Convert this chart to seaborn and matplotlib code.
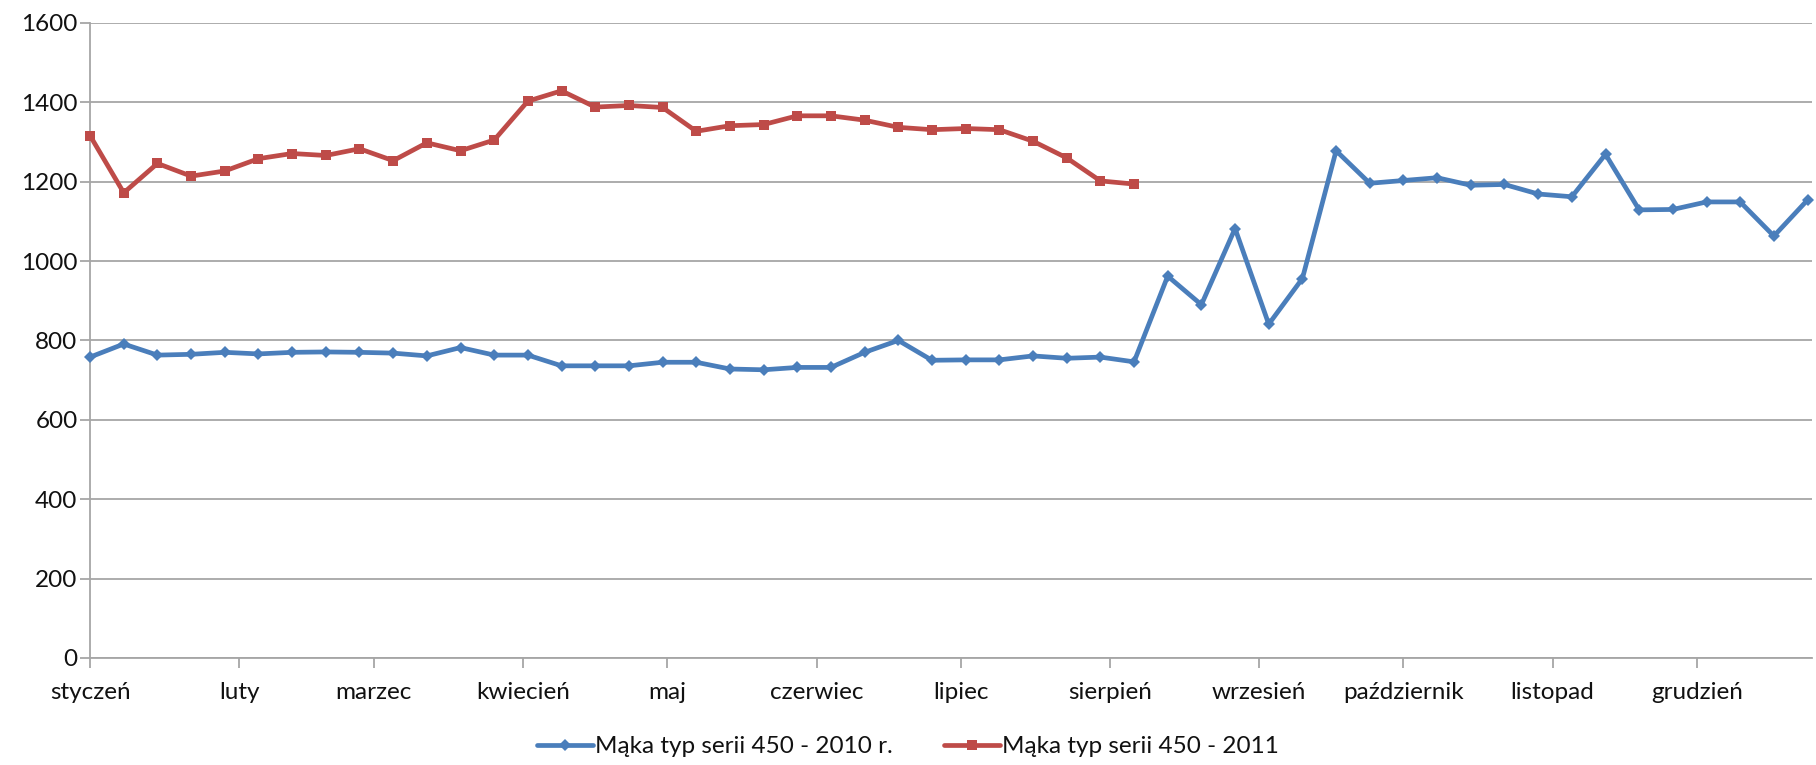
import numpy as np
import pandas as pd
import matplotlib
matplotlib.use("Agg")
import matplotlib.pyplot as plt
import matplotlib.dates as mdates
from matplotlib.ticker import FixedLocator
from matplotlib.lines import Line2D
import seaborn as sns

# Weekly price observations (one per week, starting 1 January)
price_2010 = [758, 791, 763, 765, 770, 766, 770, 771, 770, 768,
              761, 782, 763, 763, 736, 736, 736, 745, 745, 728,
              726, 732, 732, 770, 800, 750, 751, 751, 761, 755,
              758, 746, 962, 890, 1082, 841, 956, 1278, 1196, 1203,
              1210, 1191, 1193, 1169, 1162, 1269, 1129, 1130, 1149, 1149,
              1063, 1154]
price_2011 = [1316, 1172, 1246, 1214, 1227, 1258, 1271, 1266, 1283, 1253,
              1298, 1278, 1305, 1403, 1429, 1388, 1392, 1387, 1327, 1341,
              1344, 1366, 1366, 1355, 1337, 1331, 1334, 1331, 1302, 1260,
              1202, 1194]
month_labels = ["styczeń", "luty", "marzec", "kwiecień", "maj", "czerwiec",
                "lipiec", "sierpień", "wrzesień", "październik", "listopad",
                "grudzień"]
series_names = ["Mąka typ serii 450 - 2010 r.", "Mąka typ serii 450 - 2011"]
y_ticks = [0, 200, 400, 600, 800, 1000, 1200, 1400, 1600]

weeks = pd.date_range("2010-01-01", periods=len(price_2010), freq="7D")
month_starts = pd.date_range("2010-01-01", periods=12, freq="MS")

df_2010 = pd.DataFrame({"week": weeks, "price": price_2010})
df_2011 = pd.DataFrame({"week": weeks[:len(price_2011)], "price": price_2011})

sns.set_theme(style="white")
plt.rcParams["font.family"] = ["Lato", "DejaVu Sans"]

blue = "#4A7EBB"
red = "#BE4B48"
grid_col = "#A6A6A6"
text_col = "#111111"
fsize = 17.5
lw = 3.4

fig = plt.figure(figsize=(18.16, 7.65), dpi=100)
ax = fig.add_axes([0.0496, 0.140, 0.9484, 0.830])

sns.lineplot(data=df_2010, x="week", y="price", ax=ax, color=blue,
             linewidth=lw, marker="D", markersize=6, markeredgewidth=0,
             zorder=3, clip_on=False)
sns.lineplot(data=df_2011, x="week", y="price", ax=ax, color=red,
             linewidth=lw, marker="s", markersize=7, markeredgewidth=0,
             zorder=3, clip_on=False)

ax.set_ylim(0, 1600)
ax.set_yticks(y_ticks)
ax.set_yticklabels([str(v) for v in y_ticks])
ax.set_xlim(weeks[0], weeks[-1] + pd.Timedelta(days=1))
ax.xaxis.set_major_locator(FixedLocator(mdates.date2num(month_starts)))
ax.set_xticklabels(month_labels)
ax.set_xlabel("")
ax.set_ylabel("")

ax.grid(axis="y", color=grid_col, linewidth=1.3)
ax.grid(axis="x", visible=False)
ax.set_axisbelow(True)
for side in ["top", "right"]:
    ax.spines[side].set_visible(False)
for side in ["left", "bottom"]:
    ax.spines[side].set_color(grid_col)
    ax.spines[side].set_linewidth(1.3)

ax.tick_params(axis="both", which="major", length=7, width=1.3,
               color=grid_col, labelsize=fsize, labelcolor=text_col,
               direction="out", bottom=True, left=True)
ax.tick_params(axis="x", pad=10)
ax.tick_params(axis="y", pad=2)

handles = [
    Line2D([0], [0], color=blue, linewidth=lw, marker="D", markersize=6,
           markeredgewidth=0),
    Line2D([0], [0], color=red, linewidth=lw, marker="s", markersize=7,
           markeredgewidth=0),
]
fig.legend(handles, series_names, loc="center",
           bbox_to_anchor=(0.5, 0.024), ncol=2, frameon=False,
           fontsize=fsize, handlelength=2.3, handletextpad=0.1,
           columnspacing=2.1, labelcolor=text_col)

fig.savefig("out.png", dpi=100, facecolor="white")
